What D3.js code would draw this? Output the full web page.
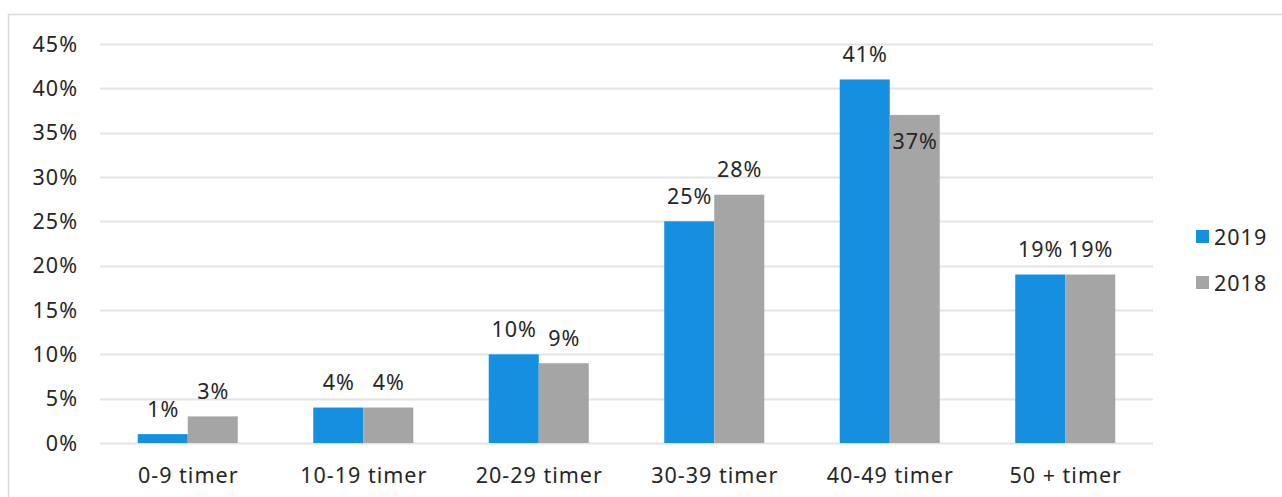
<!DOCTYPE html>
<html><head><meta charset="utf-8">
<script src="https://cdn.jsdelivr.net/npm/d3@7"></script>
<style>body{margin:0;background:#fff;} svg{display:block;} text{font-family:"Noto Sans",sans-serif;fill:#262626;letter-spacing:1px;}</style>
</head><body>
<svg id="c" width="1282" height="497"></svg>
<script>
const categories = ["0-9 timer","10-19 timer","20-29 timer","30-39 timer","40-49 timer","50 + timer"];
const seriesNames = ["2019","2018"];
const values2019 = [1,4,10,25,41,19];
const values2018 = [3,4,9,28,37,19];
const yTicks = [0,5,10,15,20,25,30,35,40,45];
const colors = {"2019":"#1590e0","2018":"#a5a5a5"};

const svg = d3.select("#c");
svg.append("rect").attr("x",8.5).attr("y",14.5).attr("width",1290).attr("height",500)
  .attr("fill","none").attr("stroke","#d9d9d9").attr("stroke-width",1.5);

const x0 = d3.scaleBand().domain(categories).range([100,1153]).paddingInner(0).paddingOuter(0);
const x1 = d3.scaleBand().domain(seriesNames).range([0,x0.bandwidth()]).paddingInner(0).paddingOuter(0.7547);
const y = d3.scaleLinear().domain([0,45]).range([443,44]);

// grid
svg.append("g").selectAll("line").data(yTicks).join("line")
  .attr("x1",100).attr("x2",1153).attr("y1",d=>Math.round(y(d))+0.5).attr("y2",d=>Math.round(y(d))+0.5)
  .attr("stroke","#e3e3e3").attr("stroke-width",2);

// y labels
svg.append("g").selectAll("text").data(yTicks).join("text")
  .attr("x",78).attr("y",d=>y(d)).attr("dy","0.35em").attr("text-anchor","end")
  .attr("font-size",21.5).text(d=>d+"%");

// x labels
svg.append("g").selectAll("text").data(categories).join("text")
  .attr("x",d=>x0(d)+x0.bandwidth()/2+0.5).attr("y",475).attr("dy","0.35em").attr("text-anchor","middle")
  .attr("font-size",21.5).text(d=>d);

const data = categories.map((c,i)=>({cat:c, vals:[{s:"2019",v:values2019[i]},{s:"2018",v:values2018[i]}]}));
const g = svg.append("g").selectAll("g").data(data).join("g").attr("transform",d=>`translate(${x0(d.cat)},0)`);
g.selectAll("rect").data(d=>d.vals).join("rect")
  .attr("x",d=>x1(d.s)).attr("width",x1.bandwidth())
  .attr("y",d=>y(d.v)).attr("height",d=>y(0)-y(d.v)).attr("fill",d=>colors[d.s]);

g.selectAll("text").data(d=>d.vals.map(v=>({...v, cat:d.cat}))).join("text")
  .attr("x",d=>x1(d.s)+x1.bandwidth()/2+0.5)
  .attr("y",d=>{
    // Excel moved this label inside the bar top to avoid the neighbouring label
    if(d.cat==="40-49 timer" && d.s==="2018") return y(d.v)+27;
    return y(d.v)-25;
  })
  .attr("dy","0.35em").attr("text-anchor","middle").attr("font-size",21.5).text(d=>d.v+"%");

// legend
const lg = svg.append("g").selectAll("g").data(seriesNames).join("g")
  .attr("transform",(d,i)=>`translate(1196,${237+i*46})`);
lg.append("rect").attr("x",0).attr("y",-7).attr("width",13).attr("height",13).attr("fill",d=>colors[d]);
lg.append("text").attr("x",18).attr("y",0).attr("dy","0.35em").attr("font-size",21.5).text(d=>d);
</script>
</body></html>
